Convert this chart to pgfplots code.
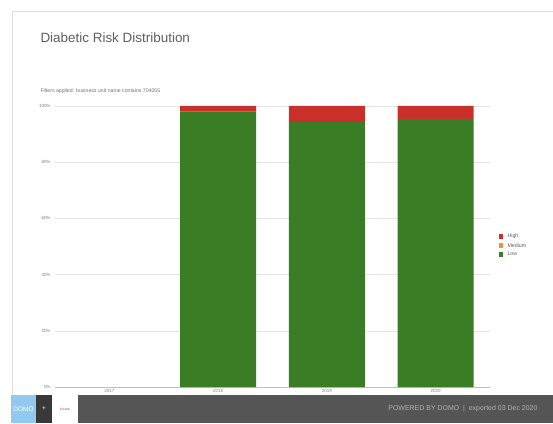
\documentclass[border=0pt]{standalone}
\usepackage{pgfplots}
\pgfplotsset{compat=1.18}
\usepackage{fontspec}
\setmainfont{Liberation Sans}
\definecolor{lowc}{HTML}{3A7D24}
\definecolor{highc}{HTML}{C9302A}
\definecolor{medc}{HTML}{F0922B}
\definecolor{footc}{HTML}{555555}
\definecolor{domoc}{HTML}{92C9EE}
\definecolor{txt}{HTML}{606060}
\begin{document}
\begin{tikzpicture}[x=1bp,y=1bp]
\useasboundingbox (0,0) rectangle (553,423);
\fill[white] (0,0) rectangle (553,423);
\draw[black!12, line width=1bp] (12,28) -- (12,411) -- (553,411);
% footer
\fill[footc] (11,0) rectangle (553,28);
\fill[domoc] (11,0) rectangle (36,28);
\fill[black!78] (36,0) rectangle (52,28);
\fill[white] (52,0) rectangle (78,28);
\node[white,font=\fontsize{6.5}{7}\selectfont] at (23.5,14) {DOMO};
\node[white,font=\fontsize{6.5}{7}\selectfont] at (44,14) {+};
\node[font=\fontsize{3.5}{4}\selectfont] at (65,14) {\textcolor{red!70}{br}\textcolor{cyan!60!blue}{care}};
\node[anchor=east,black!30,font=\fontsize{7}{8}\selectfont] at (541,14) {POWERED BY DOMO \ \textbar\ \ exported 03 Dec 2020};
% titles
\node[anchor=west,txt,font=\fontsize{13.5}{15}\selectfont] at (37,385) {Diabetic Risk Distribution};
\node[anchor=west,black!55,font=\fontsize{5.2}{6}\selectfont] at (37,332) {Filters applied: business unit name contains 704055};
% legend
\fill[highc] (498.5,184.5) rectangle (503,189);
\fill[medc] (498.5,175.5) rectangle (503,180);
\fill[lowc] (498.5,166.5) rectangle (503,171);
\node[anchor=west,txt,font=\fontsize{5.3}{6}\selectfont] at (504,186.8) {High};
\node[anchor=west,txt,font=\fontsize{5.3}{6}\selectfont] at (504,177.8) {Medium};
\node[anchor=west,txt,font=\fontsize{5.3}{6}\selectfont] at (504,168.8) {Low};
\begin{axis}[
  at={(55bp,36bp)}, anchor=south west,
  width=435bp, height=281bp, scale only axis,
  xmin=-0.5, xmax=3.5, ymin=0, ymax=100,
  ybar stacked, bar width=0.7,
  axis line style={draw=none},
  xtick={0,1,2,3}, xticklabels={2017,2018,2019,2020},
  ytick={0,20,40,60,80,100},
  yticklabels={0\%,20\%,40\%,60\%,80\%,100\%},
  ymajorgrids, grid style={black!10, line width=0.4bp},
  major tick length=0pt,
  ticklabel style={font=\fontsize{4.5}{5}\selectfont, text=black!50},
  /pgf/number format/assume math mode=true,
  xticklabel style={yshift=1.5bp},
  yticklabel style={xshift=-1bp},
  clip=false,
]
\addplot[fill=lowc, draw=none] coordinates {(0,0) (1,98) (2,94.3) (3,95.4)};
\addplot[fill=medc, draw=none] coordinates {(0,0) (1,0) (2,0) (3,0)};
\addplot[fill=highc, draw=none] coordinates {(0,0) (1,2) (2,5.7) (3,4.6)};
\draw[black!25, line width=0.5bp] (axis cs:-0.5,0) -- (axis cs:3.5,0);
\end{axis}
\end{tikzpicture}
\end{document}
